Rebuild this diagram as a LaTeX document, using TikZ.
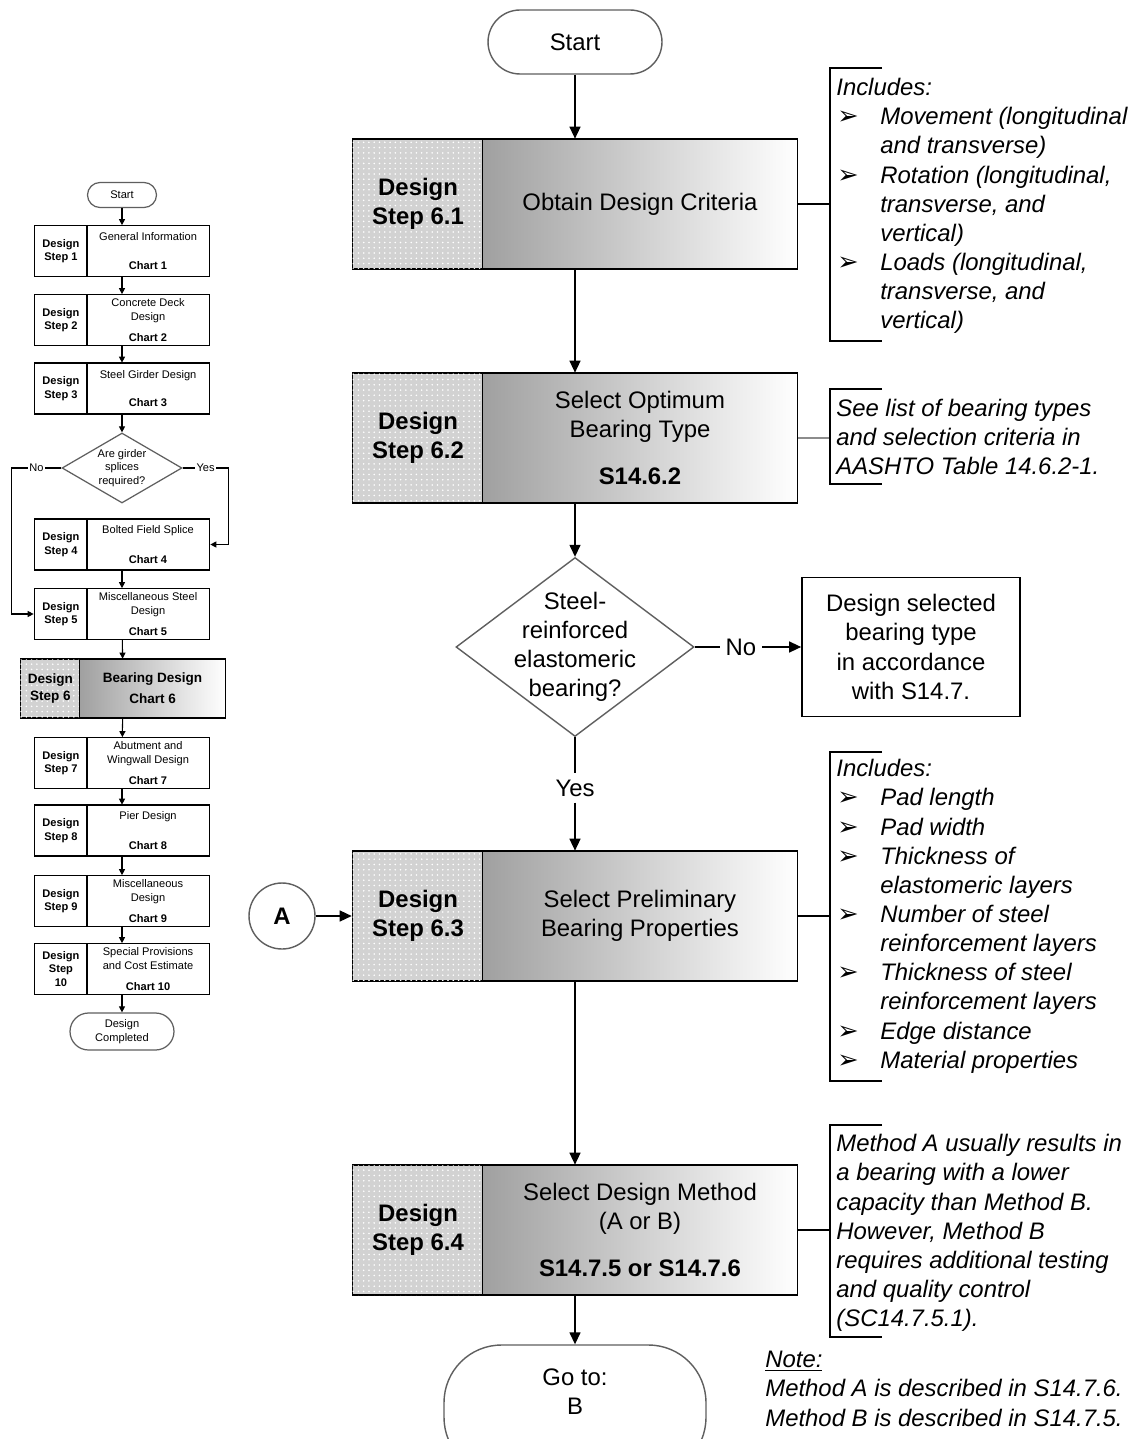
\documentclass[tikz,border=0pt]{standalone}
\usepackage{fontspec}
\setmainfont{Liberation Sans}
\newfontfamily\symfont{DejaVu Sans}
\definecolor{cellgray}{RGB}{210, 210, 210}
\definecolor{shadegray}{RGB}{160, 160, 160}
\definecolor{outlinegray}{RGB}{95, 95, 95}
\usetikzlibrary{shapes, arrows.meta, positioning, calc, patterns}
\newcommand{\mainsize}{\fontsize{13.6}{16.6}\selectfont}
\newcommand{\tinysize}{\fontsize{6.3}{7.8}\selectfont}
\newcommand{\bul}{\makebox[0.88cm][l]{\hspace{0.02cm}{\symfont\upshape\fontsize{14.5}{14}\selectfont ➢}}}
\newcommand{\bulskip}{\hspace*{0.88cm}}

\begin{document}
\begin{tikzpicture}[x=0.02cm, y=-0.02cm,
  arr/.style={-{Triangle[length=0.24cm, width=0.22cm]}, line width=0.8pt},
  sarr/.style={-{Triangle[length=0.12cm, width=0.12cm]}, line width=0.6pt},
  terminal/.style={draw=outlinegray, line width=0.8pt, font=\mainsize, align=center, inner sep=0pt},
  mframe/.style={minimum width=8.92cm, minimum height=2.6cm, inner sep=0pt},
  mlabel/.style={draw, line width=1pt, fill=cellgray, postaction={pattern=dots, pattern color=white}, minimum width=2.62cm, minimum height=2.6cm, font=\mainsize\bfseries, align=center, anchor=west, inner sep=0pt},
  mtext/.style={draw, line width=1pt, left color=shadegray, right color=white, minimum width=6.3cm, minimum height=2.6cm, font=\mainsize, align=center, anchor=east, inner sep=0pt},
  note/.style={font=\mainsize\itshape, align=left, anchor=north west, inner sep=0pt},
  sterm/.style={draw=outlinegray, line width=0.7pt, font=\tinysize, align=center, inner sep=0pt},
  sframe/.style={minimum width=3.52cm, minimum height=1.02cm, inner sep=0pt},
  slabel/.style={draw, line width=0.9pt, minimum width=1.06cm, minimum height=1.02cm, font=\tinysize\bfseries, align=center, anchor=west, inner sep=0pt},
  stext/.style={draw, line width=0.9pt, minimum width=2.46cm, minimum height=1.02cm, font=\tinysize, align=center, anchor=east, inner sep=0pt},
  sword/.style={font=\tinysize, fill=white, inner sep=1pt}]

  \useasboundingbox (0,0) rectangle (1135,1439);
  \clip (0,0) rectangle (1135,1439);
  \fill[white] (0,0) rectangle (1135,1439);

  % Overview chart
  \node[sterm, minimum width=1.38cm, minimum height=0.5cm, rounded corners=0.25cm] (sstart) at (122,195) {Start};

  \node[sframe] (m1) at (122,251) {};
  \node[slabel] (ml1) at (m1.west) {Design\\Step 1};
  \node[stext] (mt1) at (m1.east) {General Information\\[9pt]\textbf{Chart 1}};

  \node[sframe] (m2) at (122,320) {};
  \node[slabel] (ml2) at (m2.west) {Design\\Step 2};
  \node[stext] (mt2) at (m2.east) {Concrete Deck\\Design\\[4.5pt]\textbf{Chart 2}};

  \node[sframe] (m3) at (122,388.5) {};
  \node[slabel] (ml3) at (m3.west) {Design\\Step 3};
  \node[stext] (mt3) at (m3.east) {Steel Girder Design\\[8pt]\textbf{Chart 3}};

  \node[diamond, draw=outlinegray, line width=0.7pt, minimum width=2.4cm, minimum height=1.4cm, inner sep=0pt] (q) at (122,468) {};
  \node[font=\tinysize, align=center] (qtext) at (q) {Are girder\\splices\\required?};

  \node[sframe] (m4) at (122,544.5) {};
  \node[slabel] (ml4) at (m4.west) {Design\\Step 4};
  \node[stext] (mt4) at (m4.east) {Bolted Field Splice\\[9pt]\textbf{Chart 4}};

  \node[sframe] (m5) at (122,614) {};
  \node[slabel] (ml5) at (m5.west) {Design\\Step 5};
  \node[stext] (mt5) at (m5.east) {Miscellaneous Steel\\Design\\[4.5pt]\textbf{Chart 5}};

  \node[sframe, minimum width=4.12cm, minimum height=1.18cm] (m6) at (123,688.5) {};
  \node[slabel, fill=cellgray, postaction={pattern=dots, pattern color=white}, minimum width=1.2cm, minimum height=1.18cm, font=\fontsize{7.7}{9.5}\selectfont\bfseries] (ml6) at (m6.west) {Design\\Step 6};
  \node[stext, left color=shadegray, right color=white, minimum width=2.92cm, minimum height=1.18cm, font=\fontsize{7.7}{9.5}\selectfont\bfseries] (mt6) at (m6.east) {Bearing Design\\[2.5pt]Chart 6};

  \node[sframe] (m7) at (122,763) {};
  \node[slabel] (ml7) at (m7.west) {Design\\Step 7};
  \node[stext] (mt7) at (m7.east) {Abutment and\\Wingwall Design\\[4.5pt]\textbf{Chart 7}};

  \node[sframe] (m8) at (122,830.5) {};
  \node[slabel] (ml8) at (m8.west) {Design\\Step 8};
  \node[stext] (mt8) at (m8.east) {Pier Design\\[9pt]\textbf{Chart 8}};

  \node[sframe] (m9) at (122,901) {};
  \node[slabel] (ml9) at (m9.west) {Design\\Step 9};
  \node[stext] (mt9) at (m9.east) {Miscellaneous\\Design\\[4.5pt]\textbf{Chart 9}};

  \node[sframe] (m10) at (122,969) {};
  \node[slabel] (ml10) at (m10.west) {Design\\Step\\10};
  \node[stext] (mt10) at (m10.east) {Special Provisions\\and Cost Estimate\\[4.5pt]\textbf{Chart 10}};

  \node[sterm, minimum width=2.08cm, minimum height=0.74cm, rounded corners=0.37cm] (sdone) at (122,1031.5) {Design\\Completed};

  \draw[sarr] (sstart) -- (m1);
  \draw[sarr] (m1) -- (m2);
  \draw[sarr] (m2) -- (m3);
  \draw[sarr] (m3) -- (q);
  \draw[sarr] (q.west) -- node[sword] {No} ++(-50,0) |- (m5.west);
  \draw[sarr] (q.east) -- node[sword] {Yes} ++(46,0) |- (m4.east);
  \draw[sarr] (m4) -- (m5);
  \draw[sarr] (m5) -- (m6);
  \draw[sarr] (m6) -- (m7);
  \draw[sarr] (m7) -- (m8);
  \draw[sarr] (m8) -- (m9);
  \draw[sarr] (m9) -- (m10);
  \draw[sarr] (m10) -- (sdone);

  % Start
  \node[terminal, minimum width=3.48cm, minimum height=1.28cm, rounded corners=0.64cm] (start) at (575,42) {Start};

  % Design Step 6.1
  \node[mframe] (b61) at (575,204) {};
  \node[mlabel] (l61) at (b61.west) {Design\\Step 6.1};
  \node[mtext] (t61) at (b61.east) {Obtain Design Criteria};

  % Design Step 6.2
  \node[mframe] (b62) at (575,438) {};
  \node[mlabel] (l62) at (b62.west) {Design\\Step 6.2};
  \node[mtext] (t62) at (b62.east) {Select Optimum\\Bearing Type\\[10pt]\textbf{S14.6.2}};

  % Bearing type decision
  \node[diamond, draw=outlinegray, line width=0.8pt, minimum width=4.76cm, minimum height=3.58cm, inner sep=0pt] (dec) at (575,647) {};
  \node[font=\mainsize, align=center] (dectext) at (dec) {Steel-\\reinforced\\elastomeric\\bearing?};
  \node[font=\mainsize] (no) at (741,647) {No};
  \node[draw, line width=1pt, minimum width=4.36cm, minimum height=2.78cm, font=\mainsize, align=center, inner sep=0pt] (other) at (911,647) {Design selected\\bearing type\\in accordance\\with S14.7.};
  \node[font=\mainsize] (yes) at (575,788) {Yes};

  % Design Step 6.3
  \node[mframe] (b63) at (575,916) {};
  \node[mlabel] (l63) at (b63.west) {Design\\Step 6.3};
  \node[mtext] (t63) at (b63.east) {Select Preliminary\\Bearing Properties};
  \node[circle, draw=outlinegray, line width=0.8pt, minimum size=1.32cm, inner sep=0pt, font=\mainsize\bfseries] (conA) at (282,916) {A};

  % Design Step 6.4
  \node[mframe] (b64) at (575,1230) {};
  \node[mlabel] (l64) at (b64.west) {Design\\Step 6.4};
  \node[mtext] (t64) at (b64.east) {Select Design Method\\(A or B)\\[10pt]\textbf{S14.7.5 or S14.7.6}};

  % Go to B
  \node[terminal, minimum width=5.24cm, minimum height=2.6cm, rounded corners=1.15cm, text depth=0.72cm] (goto) at (575,1410) {Go to:\\B};

  \draw[arr] (start) -- (b61);
  \draw[arr] (b61) -- (b62);
  \draw[arr] (b62) -- (dec);
  \draw[line width=0.8pt] (dec.east) -- (no);
  \draw[arr] (no) -- (other);
  \draw[line width=0.8pt] (dec.south) -- (yes);
  \draw[arr] (yes) -- (b63);
  \draw[arr] (conA) -- (l63);
  \draw[arr] (b63) -- (b64);
  \draw[arr] (b64) -- (goto);

  % Side notes
  \coordinate (k61) at (830,204);
  \draw[line width=0.8pt] (t61.east) -- (k61);
  \draw[line width=0.8pt] (882,68) -- (830,68) -- (830,341) -- (882,341);
  \node[note] (n61) at (836,78) {Includes:\\
    \bul Movement (longitudinal\\
    \bulskip and transverse)\\
    \bul Rotation (longitudinal,\\
    \bulskip transverse, and\\
    \bulskip vertical)\\
    \bul Loads (longitudinal,\\
    \bulskip transverse, and\\
    \bulskip vertical)};

  \coordinate (k62) at (830,438);
  \draw[line width=0.8pt, draw=black!45] (t62.east) -- (k62);
  \draw[line width=0.8pt] (882,389) -- (830,389) -- (830,484) -- (882,484);
  \node[note] (n62) at (836,399) {See list of bearing types\\
    and selection criteria in\\
    AASHTO Table 14.6.2-1.};

  \coordinate (k63) at (830,916);
  \draw[line width=0.8pt] (t63.east) -- (k63);
  \draw[line width=0.8pt] (882,752) -- (830,752) -- (830,1081) -- (882,1081);
  \node[note] (n63) at (836,759) {Includes:\\
    \bul Pad length\\
    \bul Pad width\\
    \bul Thickness of\\
    \bulskip elastomeric layers\\
    \bul Number of steel\\
    \bulskip reinforcement layers\\
    \bul Thickness of steel\\
    \bulskip reinforcement layers\\
    \bul Edge distance\\
    \bul Material properties};

  \coordinate (k64) at (830,1230);
  \draw[line width=0.8pt] (t64.east) -- (k64);
  \draw[line width=0.8pt] (882,1125) -- (830,1125) -- (830,1337) -- (882,1337);
  \node[note] (n64) at (836,1134) {Method A usually results in\\
    a bearing with a lower\\
    capacity than Method B.\\
    However, Method B\\
    requires additional testing\\
    and quality control\\
    (SC14.7.5.1).};

  \node[note] (mnote) at (765,1351) {\underline{Note:}\\
    Method A is described in S14.7.6.\\
    Method B is described in S14.7.5.};
\end{tikzpicture}
\end{document}
